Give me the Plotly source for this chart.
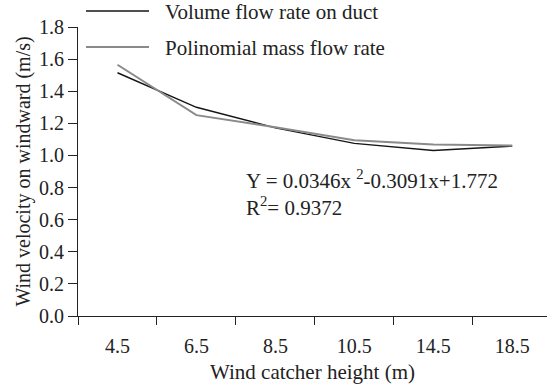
import plotly.graph_objects as go

heights = ["4.5", "6.5", "8.5", "10.5", "14.5", "18.5"]
volume_flow = [1.515, 1.30, 1.172, 1.075, 1.031, 1.058]
poly_flow = [1.565, 1.251, 1.175, 1.095, 1.068, 1.062]
y_ticks = [0.0, 0.2, 0.4, 0.6, 0.8, 1.0, 1.2, 1.4, 1.6, 1.8]

FONT = "Liberation Serif, Times New Roman, serif"

W, H = 547, 389
PL, PT, PB = 78, 27, 73  # plot area: x 78..547, y 27..316
PW, PH = W - PL, H - PT - PB


def dx(px):  # page x -> x domain fraction
    return (px - PL) / PW


def dy(py):  # page y -> y domain fraction
    return (H - PB - py) / PH


fig = go.Figure()
fig.add_trace(go.Scatter(x=heights, y=volume_flow, mode="lines",
                         line=dict(color="#151515", width=1.4),
                         name="Volume flow rate on duct", showlegend=False))
fig.add_trace(go.Scatter(x=heights, y=poly_flow, mode="lines",
                         line=dict(color="#8a8a8a", width=2),
                         name="Polinomial mass flow rate", showlegend=False))

# manual legend
legend_items = [("Volume flow rate on duct", "#151515", 1.4, 11),
                ("Polinomial mass flow rate", "#8a8a8a", 2, 47)]
for label, col, w, ypx in legend_items:
    fig.add_shape(type="line", xref="x domain", yref="y domain",
                  x0=dx(86), x1=dx(149), y0=dy(ypx), y1=dy(ypx),
                  line=dict(color=col, width=w))
    fig.add_annotation(text=label, xref="x domain", yref="y domain",
                       x=dx(163), y=dy(ypx + 1),
                       xanchor="left", yanchor="middle", showarrow=False,
                       font=dict(family=FONT, size=21, color="#222"))

fig.add_annotation(text="Y = 0.0346x <sup>2</sup>-0.3091x+1.772<br>R<sup>2</sup>= 0.9372",
                   xref="x domain", yref="y domain", align="left",
                   x=dx(244), y=dy(193),
                   xanchor="left", yanchor="middle", showarrow=False,
                   font=dict(family=FONT, size=21, color="#222"))

fig.update_layout(
    width=W, height=H,
    margin=dict(l=PL, r=0, t=PT, b=PB),
    paper_bgcolor="white", plot_bgcolor="white",
    font=dict(family=FONT, size=20, color="#222"),
    xaxis=dict(type="category", range=[-0.5, 5.44], showgrid=False,
               automargin=False,
               showline=True, linecolor="#222", linewidth=1.2,
               ticks="outside", tickson="boundaries", ticklen=8,
               tickcolor="#222", tickfont=dict(size=20), ticklabelstandoff=12,
               title=dict(text="Wind catcher height (m)", font=dict(size=21), standoff=8)),
    yaxis=dict(range=[0, 1.8], tickvals=y_ticks,
               ticktext=[f"{v:.1f}" for v in y_ticks],
               showgrid=False, zeroline=False, automargin=False,
               showline=True, linecolor="#222", linewidth=1.2,
               ticks="outside", ticklen=9, tickcolor="#222",
               tickfont=dict(size=20), ticklabelstandoff=0,
               title=dict(text="Wind velocity on windward (m/s)", font=dict(size=20), standoff=2)),
)

fig.write_html("out.html", config={"displayModeBar": False},
               post_script="document.body.style.margin='0';document.body.style.overflow='hidden';")
